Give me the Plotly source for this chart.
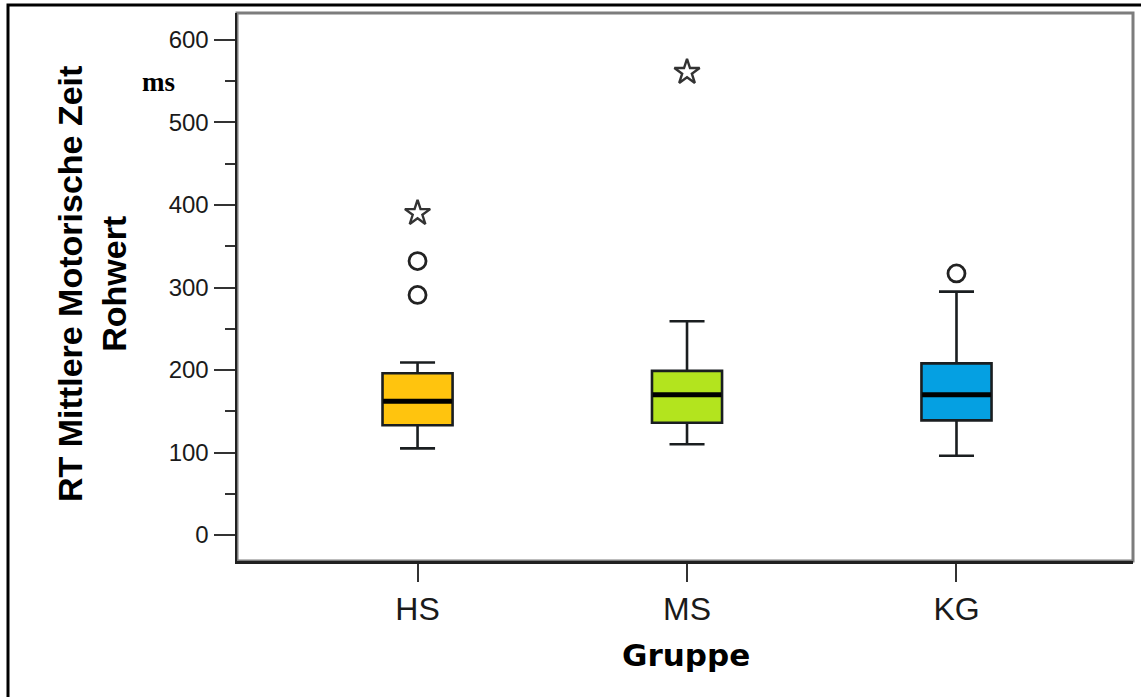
import plotly.graph_objects as go

groups = ["HS", "MS", "KG"]
q1 = [133, 136, 139]
median = [162, 170, 170]
q3 = [196, 199, 208]
lower_whisker = [105, 110, 96]
upper_whisker = [209, 259, 295]
box_colors = ["#FFC40E", "#B3E41E", "#05A0E2"]

outlier_groups = ["HS", "HS", "KG"]
outlier_values = [332, 291, 317]
extreme_groups = ["HS", "MS"]
extreme_values = [390, 561]

y_ticks = [0, 100, 200, 300, 400, 500, 600]

W, H = 1141, 697
L, R, T, B = 237, 8, 13, 136
pw, ph = W - L - R, H - T - B

def px_x(p):
    return (p - L) / pw

def px_y(p):
    return (H - B - p) / ph

fig = go.Figure()

for i, g in enumerate(groups):
    fig.add_trace(go.Box(
        x=[g], q1=[q1[i]], median=[median[i]], q3=[q3[i]],
        lowerfence=[lower_whisker[i]], upperfence=[upper_whisker[i]],
        fillcolor=box_colors[i], line=dict(color="#1a1e20", width=2.6),
        width=0.26, whiskerwidth=0.5, boxpoints=False,
        showlegend=False, hoverinfo="skip",
    ))
    # thick median line
    fig.add_trace(go.Box(
        x=[g], q1=[median[i]], median=[median[i]], q3=[median[i]],
        lowerfence=[median[i]], upperfence=[median[i]],
        fillcolor="black", line=dict(color="black", width=5),
        width=0.255, whiskerwidth=0, boxpoints=False,
        showlegend=False, hoverinfo="skip",
    ))

fig.add_trace(go.Scatter(
    x=outlier_groups, y=outlier_values, mode="markers",
    marker=dict(symbol="circle-open", size=17, color="#222",
                line=dict(width=2.8, color="#222")),
    showlegend=False, hoverinfo="skip",
))
fig.add_trace(go.Scatter(
    x=extreme_groups, y=extreme_values, mode="markers",
    marker=dict(symbol="star-open", size=19, color="#333",
                line=dict(width=2.4, color="#333")),
    showlegend=False, hoverinfo="skip",
))

fig.update_layout(
    width=W, height=H,
    margin=dict(l=L, r=R, t=T, b=B, autoexpand=False),
    paper_bgcolor="white", plot_bgcolor="white",
    boxmode="overlay",
    font=dict(family="Liberation Sans, Arial, sans-serif", color="#1a1a1a"),
    shapes=[
        dict(type="rect", xref="paper", yref="paper", x0=0, x1=1, y0=0, y1=1,
             line=dict(color="#7d7d7d", width=3), layer="below"),
        dict(type="rect", xref="paper", yref="paper",
             x0=px_x(8), x1=px_x(1148), y0=px_y(704), y1=px_y(5),
             line=dict(color="black", width=3), layer="above"),
    ],
    annotations=[
        dict(text="RT Mittlere Motorische Zeit<br>Rohwert", xref="paper", yref="paper",
             x=px_x(92), y=px_y(284), xanchor="center", yanchor="middle",
             textangle=-90, showarrow=False, align="center",
             font=dict(family="Liberation Sans, Arial", size=34, color="black", weight="bold")),
        dict(text="Gruppe", xref="paper", yref="paper",
             x=px_x(686), y=px_y(655), xanchor="center", yanchor="middle",
             showarrow=False,
             font=dict(family="DejaVu Sans", size=31, color="black", weight="bold")),
        dict(text="ms", xref="paper", yref="paper",
             x=px_x(158), y=px_y(82), xanchor="center", yanchor="middle",
             showarrow=False,
             font=dict(family="Liberation Serif, Times New Roman, serif", size=27,
                       color="black", weight="bold")),
    ],
)

fig.update_xaxes(
    type="category", categoryorder="array", categoryarray=groups,
    range=[-0.67, 2.655], showgrid=False, zeroline=False,
    showline=True, linecolor="#202020", linewidth=2.5,
    ticks="outside", ticklen=18, tickwidth=2, tickcolor="#333",
    tickfont=dict(size=32, color="#1a1a1a"),
)
fig.update_yaxes(
    range=[-31.5, 632.7], tickvals=y_ticks, showgrid=False, zeroline=False,
    showline=True, linecolor="#202020", linewidth=2.5,
    ticks="outside", ticklen=21, tickwidth=2, tickcolor="#333",
    tickfont=dict(size=24, color="#1a1a1a"),
    minor=dict(dtick=50, tick0=0, ticks="outside", ticklen=10, tickwidth=2,
               tickcolor="#333", showgrid=False),
)

fig.write_html(
    "out.html",
    config={"displayModeBar": False, "staticPlot": True},
    post_script="document.body.style.margin='0';document.body.style.overflow='hidden';",
)
